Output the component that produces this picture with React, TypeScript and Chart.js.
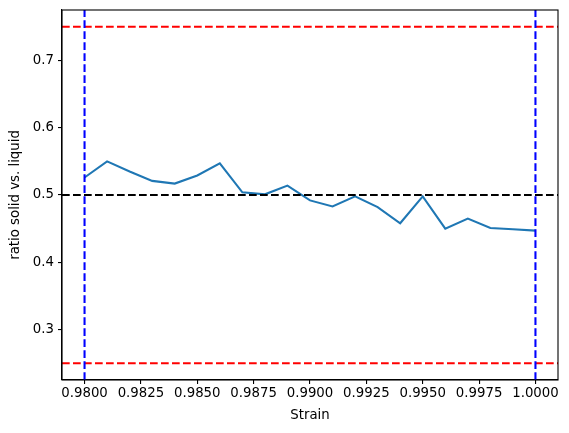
import { useEffect, useRef } from "react"
import { Chart, registerables } from "chart.js"

Chart.register(...registerables)

const strain = [
  0.98, 0.981, 0.982, 0.983, 0.984, 0.985, 0.986, 0.987, 0.988, 0.989, 0.99,
  0.991, 0.992, 0.993, 0.994, 0.995, 0.996, 0.997, 0.998, 0.999, 1.0,
]
const ratio = [
  0.526, 0.55, 0.535, 0.521, 0.517, 0.529, 0.547, 0.504, 0.501, 0.514, 0.492,
  0.483, 0.498, 0.482, 0.458, 0.498, 0.45, 0.465, 0.451, 0.449, 0.447,
]
const xTicks = [0.98, 0.9825, 0.985, 0.9875, 0.99, 0.9925, 0.995, 0.9975, 1.0]
const yTicks = [0.3, 0.4, 0.5, 0.6, 0.7]
const xRange = [0.979, 1.001]
const yRange = [0.225, 0.775]
const redLevels = [0.25, 0.75]
const blackLevel = 0.5
const blueStrains = [0.98, 1.0]

const FONT = "'DejaVu Sans', sans-serif"
const dash = [7.7, 3.3]

// matplotlib-style box around the plot area
const frame = {
  id: "frame",
  afterDraw(chart: Chart) {
    const { ctx, chartArea } = chart
    ctx.save()
    ctx.strokeStyle = "#000"
    ctx.lineWidth = 1.1
    ctx.strokeRect(chartArea.left, chartArea.top, chartArea.right - chartArea.left, chartArea.bottom - chartArea.top)
    ctx.restore()
  },
}

export default function App() {
  const canvasRef = useRef<HTMLCanvasElement>(null)
  const chartRef = useRef<Chart | null>(null)

  useEffect(() => {
    document.body.style.margin = "0"
    if (!canvasRef.current) return
    if (chartRef.current) chartRef.current.destroy()

    const hLine = (y: number, color: string) => ({
      data: [{ x: xRange[0], y }, { x: xRange[1], y }],
      borderColor: color,
      borderWidth: 2.08,
      borderDash: dash,
      pointRadius: 0,
    })
    const vLine = (x: number) => ({
      data: [{ x, y: yRange[0] }, { x, y: yRange[1] }],
      borderColor: "#0000ff",
      borderWidth: 2.08,
      borderDash: dash,
      pointRadius: 0,
    })

    chartRef.current = new Chart(canvasRef.current, {
      type: "line",
      data: {
        datasets: [
          ...blueStrains.map((x) => vLine(x)),
          hLine(blackLevel, "#000000"),
          ...redLevels.map((y) => hLine(y, "#ff0000")),
          {
            data: strain.map((x, i) => ({ x, y: ratio[i] })),
            borderColor: "#1f77b4",
            borderWidth: 2.08,
            pointRadius: 0,
          },
        ],
      },
      options: {
        animation: false,
        responsive: true,
        maintainAspectRatio: false,
        layout: { padding: { top: 10, right: 11, left: 0, bottom: 0 } },
        plugins: { legend: { display: false }, tooltip: { enabled: false } },
        scales: {
          x: {
            type: "linear",
            min: xRange[0],
            max: xRange[1],
            afterBuildTicks: (s: any) => {
              s.ticks = xTicks.map((v) => ({ value: v }))
            },
            afterFit: (s: any) => {
              s.height = 53
              s.paddingLeft = 0
              s.paddingRight = 0
            },
            grid: { drawOnChartArea: false, tickLength: 4, tickColor: "#000", lineWidth: 1.1 },
            border: { color: "#000", width: 1.1 },
            ticks: {
              color: "#000",
              padding: 2,
              maxRotation: 0,
              autoSkip: false,
              font: { family: FONT, size: 13.3 },
              callback: (v: any) => Number(v).toFixed(4),
            },
            title: {
              display: true,
              text: "Strain",
              color: "#000",
              font: { family: FONT, size: 13.3 },
              padding: { top: 0, bottom: 9 },
            },
          },
          y: {
            type: "linear",
            min: yRange[0],
            max: yRange[1],
            afterBuildTicks: (s: any) => {
              s.ticks = yTicks.map((v) => ({ value: v }))
            },
            afterFit: (s: any) => {
              s.width = 62
              s.paddingTop = 0
              s.paddingBottom = 0
            },
            grid: { drawOnChartArea: false, tickLength: 4, tickColor: "#000", lineWidth: 1.1 },
            border: { color: "#000", width: 1.1 },
            ticks: {
              color: "#000",
              padding: 4,
              autoSkip: false,
              font: { family: FONT, size: 13.3 },
              callback: (v: any) => Number(v).toFixed(1),
            },
            title: {
              display: true,
              text: "ratio solid vs. liquid",
              color: "#000",
              font: { family: FONT, size: 13.3 },
              padding: { top: 8, bottom: 0 },
            },
          },
        },
      },
      plugins: [frame],
    })

    return () => {
      if (chartRef.current) {
        chartRef.current.destroy()
        chartRef.current = null
      }
    }
  }, [])

  return (
    <div style={{ position: "fixed", left: 0, top: 0, width: 569, height: 433, background: "#fff" }}>
      <canvas ref={canvasRef} />
    </div>
  )
}
